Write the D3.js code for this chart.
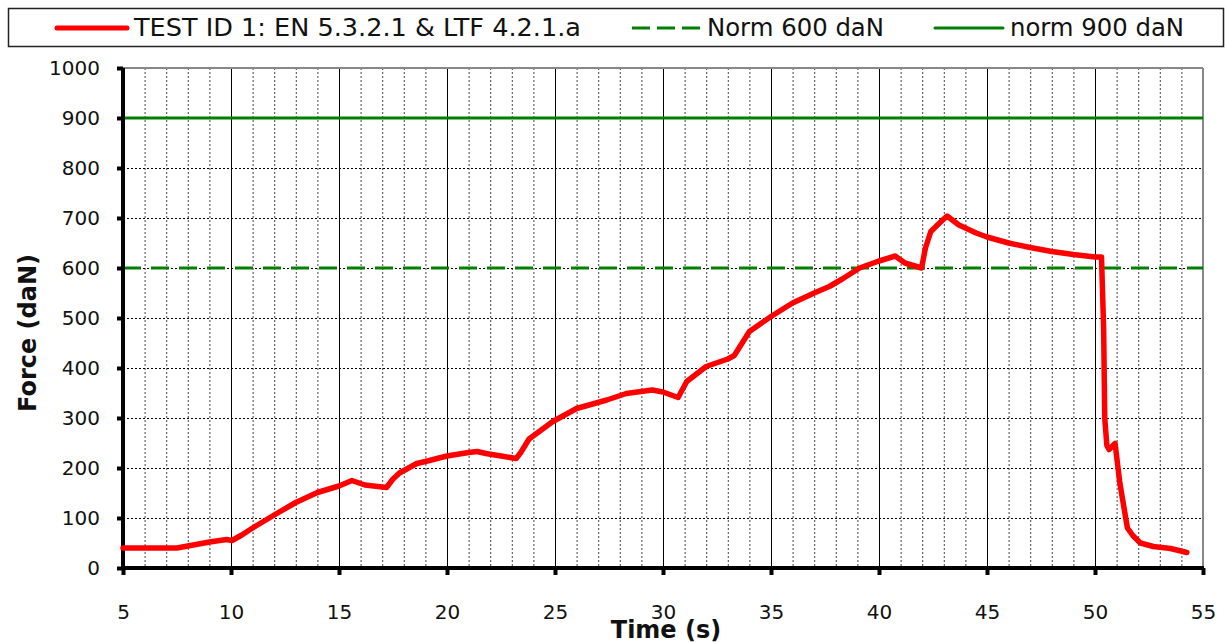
<!DOCTYPE html>
<html>
<head>
<meta charset="utf-8">
<script src="https://cdn.jsdelivr.net/npm/d3@7"></script>
<style>
  html, body { margin: 0; padding: 0; background: #fff; }
  svg { display: block; font-family: "DejaVu Sans", Verdana, sans-serif; }
</style>
</head>
<body>
<div id="chart"></div>
<script>
// ── data ────────────────────────────────────────────────────────────────────
const timeS = [5, 7.5, 8, 9, 9.8, 10.05, 10.5, 11, 12, 13, 14, 15, 15.6, 16.2, 17.2, 17.5, 17.8,
  18.6, 19, 20, 21, 21.4, 21.8, 22.5, 23.2, 23.4, 23.8, 24.9, 26, 27.4, 28.3, 29.5, 30, 30.7,
  31.1, 32, 33, 33.3, 34, 35, 36, 37, 37.7, 38.3, 39.1, 40, 40.75, 41.2, 41.97, 42.15, 42.4,
  42.8, 43.15, 43.7, 44.5, 45, 46, 47, 48, 49, 50, 50.3, 50.4, 50.45, 50.55, 50.65, 50.93,
  51.15, 51.5, 51.75, 52.1, 52.7, 53.5, 54.25];
const forceDaN = [40, 40, 44, 52, 57, 55, 66, 80, 106, 131, 151, 164, 175, 166, 161, 178, 190,
  209, 213, 224, 231, 233, 229, 224, 219, 230, 258, 293, 319, 336, 349, 356, 352, 341,
  373, 403, 418, 425, 473, 503, 530, 550, 563, 578, 600, 614, 624, 610, 600, 640, 673,
  690, 704, 686, 670, 662, 650, 641, 633, 627, 622, 622, 480, 300, 245, 237, 249,
  170, 80, 65, 50, 43, 39, 31];

const norms = [600, 900];
const seriesNames = ['TEST ID 1: EN 5.3.2.1 & LTF 4.2.1.a', 'Norm 600 daN', 'norm 900 daN'];
const xTicks = d3.range(5, 56, 5);
const yTicks = d3.range(0, 1001, 100);

const RED = '#ff0000';
const GREEN = '#008000';

const W = 1226, H = 642;
const svg = d3.select('#chart').append('svg').attr('width', W).attr('height', H);

const x = d3.scaleLinear().domain([5, 55]).range([123, 1203]);
const y = d3.scaleLinear().domain([0, 1000]).range([568, 68]);

// ── grid ────────────────────────────────────────────────────────────────────
const grid = svg.append('g');
grid.selectAll('line.minor')
  .data(d3.range(6, 55).filter(t => t % 5 !== 0))
  .join('line')
    .attr('x1', d => x(d) + 0.5).attr('x2', d => x(d) + 0.5)
    .attr('y1', y(1000)).attr('y2', y(0))
    .attr('stroke', '#444').attr('stroke-dasharray', '2,2');
grid.selectAll('line.major')
  .data(d3.range(10, 55, 5))
  .join('line')
    .attr('x1', d => x(d) + 0.5).attr('x2', d => x(d) + 0.5)
    .attr('y1', y(1000)).attr('y2', y(0))
    .attr('stroke', '#000').attr('stroke-width', 1);
grid.selectAll('line.h')
  .data(d3.range(100, 1000, 100))
  .join('line')
    .attr('x1', x(5)).attr('x2', x(55))
    .attr('y1', d => y(d) + 0.5).attr('y2', d => y(d) + 0.5)
    .attr('stroke', '#000').attr('stroke-dasharray', '2,2');

// plot frame top / right
svg.append('line').attr('x1', x(5)).attr('x2', x(55)).attr('y1', y(1000)).attr('y2', y(1000))
  .attr('stroke', '#888').attr('stroke-width', 2);
svg.append('line').attr('x1', x(55)).attr('x2', x(55)).attr('y1', y(1000)).attr('y2', y(0))
  .attr('stroke', '#888').attr('stroke-width', 2);

// ── norm lines ──────────────────────────────────────────────────────────────
svg.append('line').attr('x1', x(5)).attr('x2', x(55)).attr('y1', y(norms[0])).attr('y2', y(norms[0]))
  .attr('stroke', GREEN).attr('stroke-width', 3).attr('stroke-dasharray', '18,10');
svg.append('line').attr('x1', x(5)).attr('x2', x(55)).attr('y1', y(norms[1])).attr('y2', y(norms[1]))
  .attr('stroke', GREEN).attr('stroke-width', 3);

// ── axes ────────────────────────────────────────────────────────────────────
const yAxis = svg.append('g').attr('transform', `translate(${x(5)},0)`)
  .call(d3.axisLeft(y).tickValues(yTicks).tickFormat(d3.format('d')).tickSize(6).tickPadding(17));
const xAxis = svg.append('g').attr('transform', `translate(0,${y(0)})`)
  .call(d3.axisBottom(x).tickValues(xTicks).tickFormat(d3.format('d')).tickSize(7).tickPadding(30));

[yAxis, xAxis].forEach(g => {
  g.select('.domain').remove();
  g.selectAll('.tick line').attr('stroke', '#000').attr('stroke-width', 4);
  g.selectAll('.tick text').style('font-size', '20px').attr('fill', '#111')
    .style('font-family', '"DejaVu Sans", Verdana, sans-serif');
});
svg.append('line').attr('x1', x(5)).attr('x2', x(5)).attr('y1', y(1000)).attr('y2', y(0) + 2)
  .attr('stroke', '#000').attr('stroke-width', 4);
svg.append('line').attr('x1', x(5) - 2).attr('x2', x(55) + 1).attr('y1', y(0)).attr('y2', y(0))
  .attr('stroke', '#000').attr('stroke-width', 4);

// ── test curve ──────────────────────────────────────────────────────────────
const pts = timeS.map((t, i) => [t, forceDaN[i]]);
svg.append('path')
  .datum(pts)
  .attr('fill', 'none')
  .attr('stroke', RED)
  .attr('stroke-width', 5.5)
  .attr('stroke-linejoin', 'round')
  .attr('stroke-linecap', 'round')
  .attr('d', d3.line().x(d => x(d[0])).y(d => y(d[1])));

// ── axis titles ─────────────────────────────────────────────────────────────
svg.append('text')
  .attr('x', 666).attr('y', 638)
  .attr('text-anchor', 'middle')
  .attr('font-size', 24).attr('font-weight', 'bold').attr('fill', '#111')
  .text('Time (s)');
svg.append('text')
  .attr('transform', 'translate(36,333) rotate(-90)')
  .attr('text-anchor', 'middle')
  .attr('font-size', 24).attr('font-weight', 'bold').attr('fill', '#111')
  .text('Force (daN)');

// ── legend ──────────────────────────────────────────────────────────────────
const leg = svg.append('g');
leg.append('rect').attr('x', 8.5).attr('y', 8.5).attr('width', 1215).attr('height', 38)
  .attr('fill', '#fff').attr('stroke', '#222').attr('stroke-width', 1.5);

const legItems = [
  { name: seriesNames[0], x0: 57, x1: 127, len: 447, color: RED, width: 5, dash: null },
  { name: seriesNames[1], x0: 632, x1: 700, len: 177, color: GREEN, width: 3, dash: '18,7' },
  { name: seriesNames[2], x0: 935, x1: 1003, len: 174, color: GREEN, width: 3, dash: null },
];
legItems.forEach(d => {
  leg.append('line').attr('x1', d.x0).attr('x2', d.x1).attr('y1', 28).attr('y2', 28)
    .attr('stroke', d.color).attr('stroke-width', d.width)
    .attr('stroke-linecap', d.dash ? 'butt' : 'round')
    .attr('stroke-dasharray', d.dash);
  leg.append('text').attr('x', d.x1 + 7).attr('y', 36)
    .attr('font-size', 24.5).attr('fill', '#111')
    .attr('textLength', d.len).attr('lengthAdjust', 'spacingAndGlyphs')
    .text(d.name);
});
</script>
</body>
</html>
